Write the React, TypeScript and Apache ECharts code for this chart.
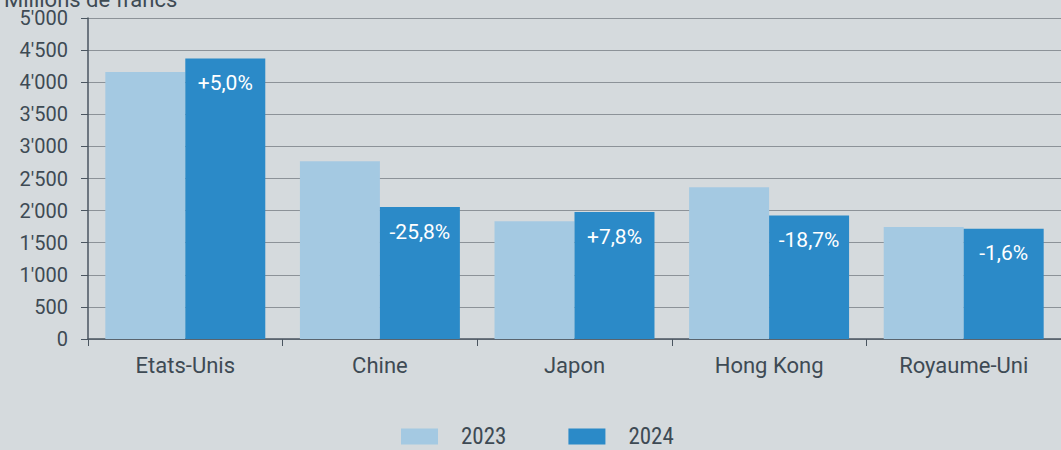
import React, { useEffect, useRef } from "react";
import * as echarts from "echarts";

const categories = ["Etats-Unis", "Chine", "Japon", "Hong Kong", "Royaume-Uni"];
const values2023 = [4160, 2770, 1835, 2365, 1745];
const values2024 = [4370, 2055, 1978, 1922, 1717];
const changeLabels = ["+5,0%", "-25,8%", "+7,8%", "-18,7%", "-1,6%"];
const seriesNames = ["2023", "2024"];
const unitLabel = "Millions de francs";

const fmt = (v: number) => {
  const s = String(Math.round(v));
  return s.replace(/\B(?=(\d{3})+(?!\d))/g, "'");
};

export default function App() {
  const ref = useRef<HTMLDivElement>(null);
  useEffect(() => {
    document.body.style.margin = "0";
    const chart = echarts.init(ref.current!, undefined, { renderer: "svg" });
    const textColor = "#3e4a54";
    chart.setOption({
      animation: false,
      backgroundColor: "#d5dadd",
      textStyle: { fontFamily: "Roboto, 'Liberation Sans', sans-serif" },
      grid: [{ left: 88, right: 0, top: 18, bottom: 111, containLabel: false, outerBoundsMode: "none" }],
      graphic: [
        {
          type: "text",
          left: 4,
          top: -12,
          style: { text: unitLabel, fill: textColor, font: "22px Roboto, sans-serif", lineHeight: 16 },
        },
      ],
      legend: {
        left: 401,
        bottom: 2,
        padding: 0,
        itemWidth: 37,
        itemHeight: 16,
        itemGap: 62,
        icon: "rect",
        data: seriesNames,
        textStyle: {
          color: "#3e4a54",
          fontSize: 23,
          lineHeight: 16,
          fontFamily: "'Liberation Sans Narrow', 'Roboto Condensed', Roboto, sans-serif",
          padding: [0, 0, 0, 18],
        },
      },
      xAxis: [
        {
          type: "category",
          data: categories,
          axisLine: { lineStyle: { color: "#4a5560", width: 1.5 } },
          axisTick: { show: true, length: 7, lineStyle: { color: "#4a5560" } },
          axisLabel: { color: textColor, fontSize: 22, margin: 15 },
        },
      ],
      yAxis: [
        {
          type: "value",
          min: 0,
          max: 5000,
          interval: 500,
          axisLine: { show: true, lineStyle: { color: "#4a5560", width: 1.5 } },
          axisTick: { show: true, length: 7, lineStyle: { color: "#4a5560" } },
          axisLabel: {
            color: textColor,
            fontSize: 20,
            margin: 20,
            formatter: fmt,
          },
          splitLine: { lineStyle: { color: "#8c9298", width: 1 } },
        },
      ],
      series: [
        {
          name: seriesNames[0],
          type: "bar",
          data: values2023,
          barGap: "0%",
          barCategoryGap: "17.8%",
          itemStyle: { color: "#a4c9e2" },
        },
        {
          name: seriesNames[1],
          type: "bar",
          data: values2024,
          itemStyle: { color: "#2b8ac8" },
          label: {
            show: true,
            position: "insideTop",
            distance: 14,
            color: "#ffffff",
            fontSize: 21,
            formatter: (p: any) => changeLabels[p.dataIndex],
          },
        },
      ],
    });
    return () => chart.dispose();
  }, []);
  return <div ref={ref} style={{ width: 1061, height: 450 }} />;
}
